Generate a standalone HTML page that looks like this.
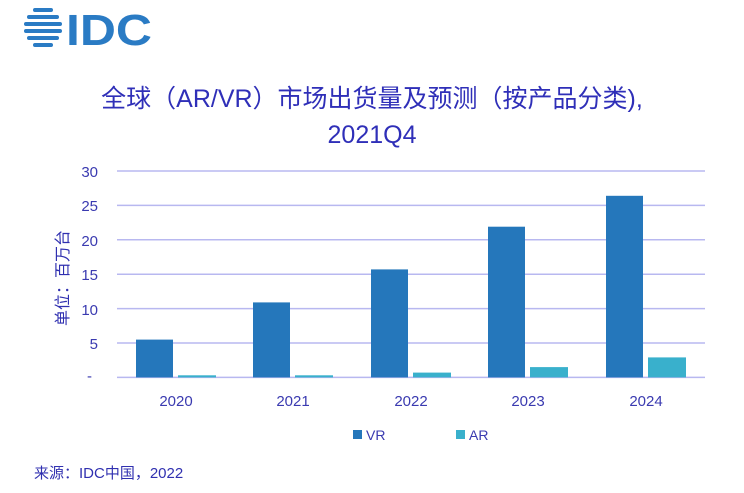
<!DOCTYPE html>
<html><head><meta charset="utf-8"><style>
body{margin:0;width:744px;height:488px;background:#fff;overflow:hidden;font-family:"Liberation Sans","Noto Sans CJK SC",sans-serif}
</style></head><body>
<svg width="744" height="488" xmlns="http://www.w3.org/2000/svg" style="font-family:'Liberation Sans','Noto Sans CJK SC',sans-serif">
<g fill="#2a7bc4">
<rect x="33" y="8" width="20" height="4" rx="2"/><rect x="27" y="15" width="32" height="4" rx="2"/>
<rect x="24" y="22" width="38" height="4" rx="2"/><rect x="24" y="29" width="38" height="4" rx="2"/>
<rect x="27" y="36" width="32" height="4" rx="2"/><rect x="33" y="43" width="20" height="4" rx="2"/>
</g>
<text x="66" y="45" font-size="44" font-weight="bold" fill="#2a7bc4" textLength="86" lengthAdjust="spacingAndGlyphs">IDC</text>
<text x="372" y="107" font-size="25" fill="#2f2fb8" text-anchor="middle">全球（AR/VR）市场出货量及预测（按产品分类),</text>
<text x="372" y="143" font-size="25" fill="#2f2fb8" text-anchor="middle">2021Q4</text>
<g stroke="#b8b8f0" stroke-width="1.5">
<line x1="117" x2="705" y1="171" y2="171"/><line x1="117" x2="705" y1="205.4" y2="205.4"/>
<line x1="117" x2="705" y1="239.8" y2="239.8"/><line x1="117" x2="705" y1="274.2" y2="274.2"/>
<line x1="117" x2="705" y1="308.6" y2="308.6"/><line x1="117" x2="705" y1="343" y2="343"/>
<line x1="117" x2="705" y1="377.4" y2="377.4"/>
</g>
<g font-size="15" fill="#3a3ab0" text-anchor="end">
<text x="98" y="177">30</text><text x="98" y="211">25</text><text x="98" y="246">20</text>
<text x="98" y="280">15</text><text x="98" y="315">10</text><text x="98" y="349">5</text><text x="92" y="381">-</text>
</g>
<text transform="translate(68,278) rotate(-90)" font-size="16" fill="#3030b0" text-anchor="middle">单位：百万台</text>
<g fill="#2577bb">
<rect x="136" y="339.6" width="37" height="37.8"/>
<rect x="253" y="302.4" width="37" height="75"/>
<rect x="371" y="269.4" width="37" height="108"/>
<rect x="488" y="226.7" width="37" height="150.7"/>
<rect x="606" y="195.8" width="37" height="181.6"/>
</g>
<g fill="#39b0cc">
<rect x="178" y="375.3" width="38" height="2.1"/>
<rect x="295" y="375.3" width="38" height="2.1"/>
<rect x="413" y="372.6" width="38" height="4.8"/>
<rect x="530" y="367.1" width="38" height="10.3"/>
<rect x="648" y="357.4" width="38" height="20"/>
</g>
<g font-size="15" fill="#3a3ab0" text-anchor="middle">
<text x="176" y="406">2020</text><text x="293" y="406">2021</text><text x="411" y="406">2022</text>
<text x="528" y="406">2023</text><text x="646" y="406">2024</text>
</g>
<rect x="353" y="430" width="9" height="9" fill="#2577bb"/>
<text x="366" y="440" font-size="14" fill="#3a3ab0">VR</text>
<rect x="456" y="430" width="9" height="9" fill="#39b0cc"/>
<text x="469" y="440" font-size="14" fill="#3a3ab0">AR</text>
<text x="34" y="478" font-size="15" fill="#3030b0">来源：IDC中国，2022</text>
</svg>
</body></html>
